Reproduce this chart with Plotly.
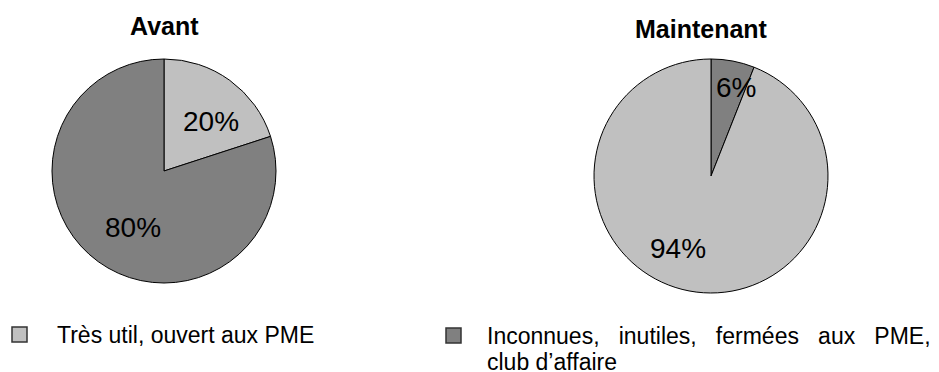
import math
import plotly.graph_objects as go

W, H = 939, 372

# ---- data ----
categories = ["Très util, ouvert aux PME",
              "Inconnues, inutiles, fermées aux PME, club d’affaire"]
titles = ["Avant", "Maintenant"]
# slice order (clockwise from 12 o'clock) per pie, as category indices
avant_order = [0, 1]
avant_values = [20, 80]
maintenant_order = [1, 0]
maintenant_values = [6, 94]
# legend lines as displayed (second entry is justified in the original)
legend_lines = [["Très util, ouvert aux PME"],
                ["Inconnues,\u00a0\u00a0\u00a0inutiles,\u00a0\u00a0\u00a0fermées\u00a0\u00a0\u00a0aux\u00a0\u00a0\u00a0PME,",
                 "club d’affaire"]]

colors = ["#C0C0C0", "#808080"]
FONT = "Liberation Sans, Arial, sans-serif"


def xp(px):
    return px / W


def yp(py):
    return 1 - py / H


# pie geometry in pixels: centre x, centre y, radius
pies = [
    dict(cx=164, cy=171, r=112, order=avant_order, values=avant_values,
         title=titles[0], tx=164, ty=26, k=[0.61, 0.58], dang=[7, -7]),
    dict(cx=711, cy=176, r=117, order=maintenant_order, values=maintenant_values,
         title=titles[1], tx=701, ty=29, k=[0.79, 0.68], dang=[5, 14]),
]

fig = go.Figure()
annotations = []
shapes = []

for p in pies:
    labels = [categories[i] for i in p["order"]]
    cols = [colors[i] for i in p["order"]]
    fig.add_trace(go.Pie(
        labels=labels, values=p["values"], sort=False, direction="clockwise",
        rotation=0, textinfo="none", hoverinfo="label+percent",
        marker=dict(colors=cols, line=dict(color="black", width=1)),
        domain=dict(x=[xp(p["cx"] - p["r"]), xp(p["cx"] + p["r"])],
                    y=[yp(p["cy"] + p["r"]), yp(p["cy"] - p["r"])]),
        showlegend=False,
    ))
    total = sum(p["values"])
    cum = 0
    for j, v in enumerate(p["values"]):
        mid = (cum + v / 2) / total
        cum += v
        ang = math.radians(mid * 360 + p["dang"][j])
        d = p["k"][j] * p["r"]
        lx = p["cx"] + d * math.sin(ang)
        ly = p["cy"] - d * math.cos(ang)
        annotations.append(dict(
            x=xp(lx), y=yp(ly), xref="paper", yref="paper",
            text=f"{round(100 * v / total)}%", showarrow=False,
            xanchor="center", yanchor="middle",
            font=dict(family=FONT, size=28, color="black")))
    annotations.append(dict(
        x=xp(p["tx"]), y=yp(p["ty"]), xref="paper", yref="paper",
        text=f"<b>{p['title']}</b>", showarrow=False,
        xanchor="center", yanchor="middle",
        font=dict(family=FONT, size=25, color="black")))

# legend (manual, to match the original layout)
legend_items = [
    dict(mx=12, my=327, size=15, tx=55, ty=[335]),
    dict(mx=446, my=328, size=15, tx=485, ty=[336, 362]),
]
for i, it in enumerate(legend_items):
    shapes.append(dict(
        type="rect", xref="paper", yref="paper",
        x0=xp(it["mx"]), x1=xp(it["mx"] + it["size"]),
        y0=yp(it["my"] + it["size"]), y1=yp(it["my"]),
        fillcolor=colors[i], line=dict(color="#333333", width=1.5)))
    for line, ty in zip(legend_lines[i], it["ty"]):
        annotations.append(dict(
            x=xp(it["tx"]), y=yp(ty), xref="paper", yref="paper",
            text=line, showarrow=False, xanchor="left", yanchor="middle",
            font=dict(family=FONT, size=23, color="black")))

fig.update_layout(
    width=W, height=H, margin=dict(l=0, r=0, t=0, b=0),
    paper_bgcolor="white", plot_bgcolor="white",
    annotations=annotations, shapes=shapes, showlegend=False,
)

fig.write_html("out.html")
